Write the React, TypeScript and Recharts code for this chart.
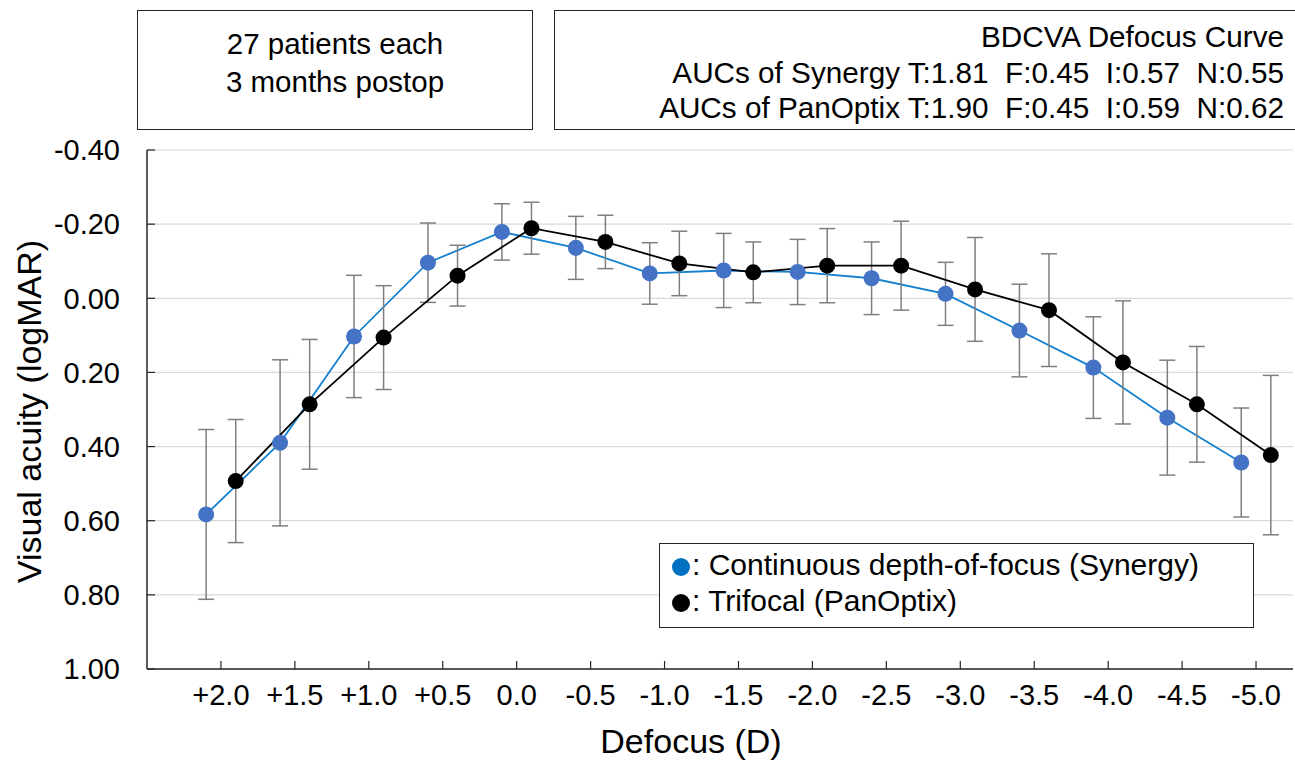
import { LineChart, Line, XAxis, YAxis, CartesianGrid, ErrorBar, Label } from 'recharts'

const FONT = '"Liberation Sans", Arial, sans-serif'

// defocus steps in dioptres (x axis categories)
const defocus = [2.0, 1.5, 1.0, 0.5, 0.0, -0.5, -1.0, -1.5, -2.0, -2.5, -3.0, -3.5, -4.0, -4.5, -5.0]

// Synergy (continuous depth-of-focus), mean logMAR and SD
const synergyMean = [0.583, 0.39, 0.103, -0.096, -0.179, -0.136, -0.067, -0.075, -0.071, -0.054, -0.012, 0.087, 0.187, 0.322, 0.443]
const synergySd = [0.229, 0.224, 0.165, 0.107, 0.076, 0.085, 0.083, 0.1, 0.088, 0.098, 0.085, 0.125, 0.137, 0.155, 0.147]

// PanOptix (trifocal), mean logMAR and SD
const panoptixMean = [0.493, 0.286, 0.106, -0.061, -0.189, -0.152, -0.094, -0.07, -0.088, -0.088, -0.024, 0.032, 0.173, 0.286, 0.423]
const panoptixSd = [0.166, 0.175, 0.14, 0.082, 0.07, 0.072, 0.087, 0.082, 0.1, 0.12, 0.14, 0.152, 0.166, 0.156, 0.215]

const yTicks = [-0.4, -0.2, 0, 0.2, 0.4, 0.6, 0.8, 1.0]

// the two series are drawn slightly apart around each defocus step
const SHIFT = 0.1

const synergyRows = defocus.map((d, i) => ({ x: d + SHIFT, va: synergyMean[i], sd: synergySd[i] }))
const panoptixRows = defocus.map((d, i) => ({ x: d - SHIFT, va: panoptixMean[i], sd: panoptixSd[i] }))

const fmtX = (v: number) => (v > 0 ? '+' + v.toFixed(1) : v.toFixed(1))
const fmtY = (v: number) => v.toFixed(2)

function YTitle(props: any) {
  const vb = props.viewBox
  const cx = vb.x + 41
  const cy = vb.y + vb.height / 2 + 2
  return (
    <text x={cx} y={cy} transform={`rotate(-90 ${cx} ${cy})`} textAnchor="middle" fontSize={34} fontFamily={FONT} fill="#000">
      Visual acuity (logMAR)
    </text>
  )
}

function XTitle(props: any) {
  const vb = props.viewBox
  return (
    <text x={vb.x + vb.width / 2 - 29} y={vb.y + 84} textAnchor="middle" fontSize={34} fontFamily={FONT} fill="#000">
      Defocus (D)
    </text>
  )
}

const boxStyle: React.CSSProperties = {
  position: 'absolute',
  boxSizing: 'border-box',
  border: '1.5px solid #262626',
  background: '#fff',
  fontFamily: FONT,
  color: '#000',
  whiteSpace: 'pre',
}

function Dot({ color }: { color: string }) {
  return (
    <span
      style={{
        display: 'inline-block',
        width: 18,
        height: 18,
        borderRadius: '50%',
        background: color,
        marginRight: 2,
        verticalAlign: '-1px',
      }}
    />
  )
}

export default function App() {
  return (
    <div style={{ position: 'absolute', left: 0, top: 0, width: 1295, height: 762, background: '#fff' }}>
      <LineChart width={1295} height={762} margin={{ top: 150, right: 2, bottom: 0, left: 0 }}>
        <CartesianGrid vertical={false} stroke="#d9d9d9" strokeWidth={1.2} />
        <XAxis
          type="number"
          dataKey="x"
          domain={[-5.25, 2.5]}
          reversed
          allowDataOverflow
          ticks={defocus}
          interval={0}
          tickFormatter={fmtX}
          height={93}
          tickSize={-8}
          tickMargin={23}
          axisLine={{ stroke: '#262626', strokeWidth: 1.5 }}
          tickLine={{ stroke: '#262626', strokeWidth: 1.2 }}
          tick={{ fontSize: 29, fill: '#000', fontFamily: FONT }}
        >
          <Label content={XTitle} />
        </XAxis>
        <YAxis
          type="number"
          domain={[-0.4, 1.0]}
          reversed
          allowDataOverflow
          ticks={yTicks}
          interval={0}
          tickFormatter={fmtY}
          width={147}
          tickSize={-8}
          tickMargin={35}
          axisLine={{ stroke: '#262626', strokeWidth: 1.5 }}
          tickLine={{ stroke: '#262626', strokeWidth: 1.2 }}
          tick={{ fontSize: 29, fill: '#000', fontFamily: FONT }}
        >
          <Label content={YTitle} />
        </YAxis>
        <Line
          data={synergyRows}
          dataKey="va"
          name="Synergy"
          stroke="#1480d0"
          strokeWidth={1.8}
          dot={{ r: 8, fill: '#4472C4', stroke: '#4472C4', strokeWidth: 0 }}
          activeDot={false}
          isAnimationActive={false}
        >
          <ErrorBar dataKey="sd" direction="y" width={8} stroke="#7f7f7f" strokeWidth={1.5} />
        </Line>
        <Line
          data={panoptixRows}
          dataKey="va"
          name="PanOptix"
          stroke="#000"
          strokeWidth={1.8}
          dot={{ r: 8, fill: '#000', stroke: '#000', strokeWidth: 0 }}
          activeDot={false}
          isAnimationActive={false}
        >
          <ErrorBar dataKey="sd" direction="y" width={8} stroke="#7f7f7f" strokeWidth={1.5} />
        </Line>
      </LineChart>

      {/* top boxes */}
      <div
        style={{
          ...boxStyle,
          left: 137,
          top: 10,
          width: 396,
          height: 120,
          fontSize: 29.5,
          lineHeight: '38px',
          textAlign: 'center',
          paddingTop: 14,
        }}
      >
        {'27 patients each\n3 months postop'}
      </div>
      <div
        style={{
          ...boxStyle,
          left: 554,
          top: 10,
          width: 742,
          height: 120,
          fontSize: 29.7,
          lineHeight: '35.5px',
          textAlign: 'right',
          paddingTop: 8,
          paddingRight: 11,
        }}
      >
        {'BDCVA Defocus Curve\nAUCs of Synergy T:1.81  F:0.45  I:0.57  N:0.55\nAUCs of PanOptix T:1.90  F:0.45  I:0.59  N:0.62'}
      </div>

      {/* legend */}
      <div
        style={{
          ...boxStyle,
          left: 659,
          top: 543,
          width: 595,
          height: 85,
          fontSize: 30,
          lineHeight: '36px',
          paddingTop: 3,
          paddingLeft: 12,
        }}
      >
        <div>
          <Dot color="#0070C0" />: Continuous depth-of-focus (Synergy)
        </div>
        <div>
          <Dot color="#000" />: Trifocal (PanOptix)
        </div>
      </div>
    </div>
  )
}
